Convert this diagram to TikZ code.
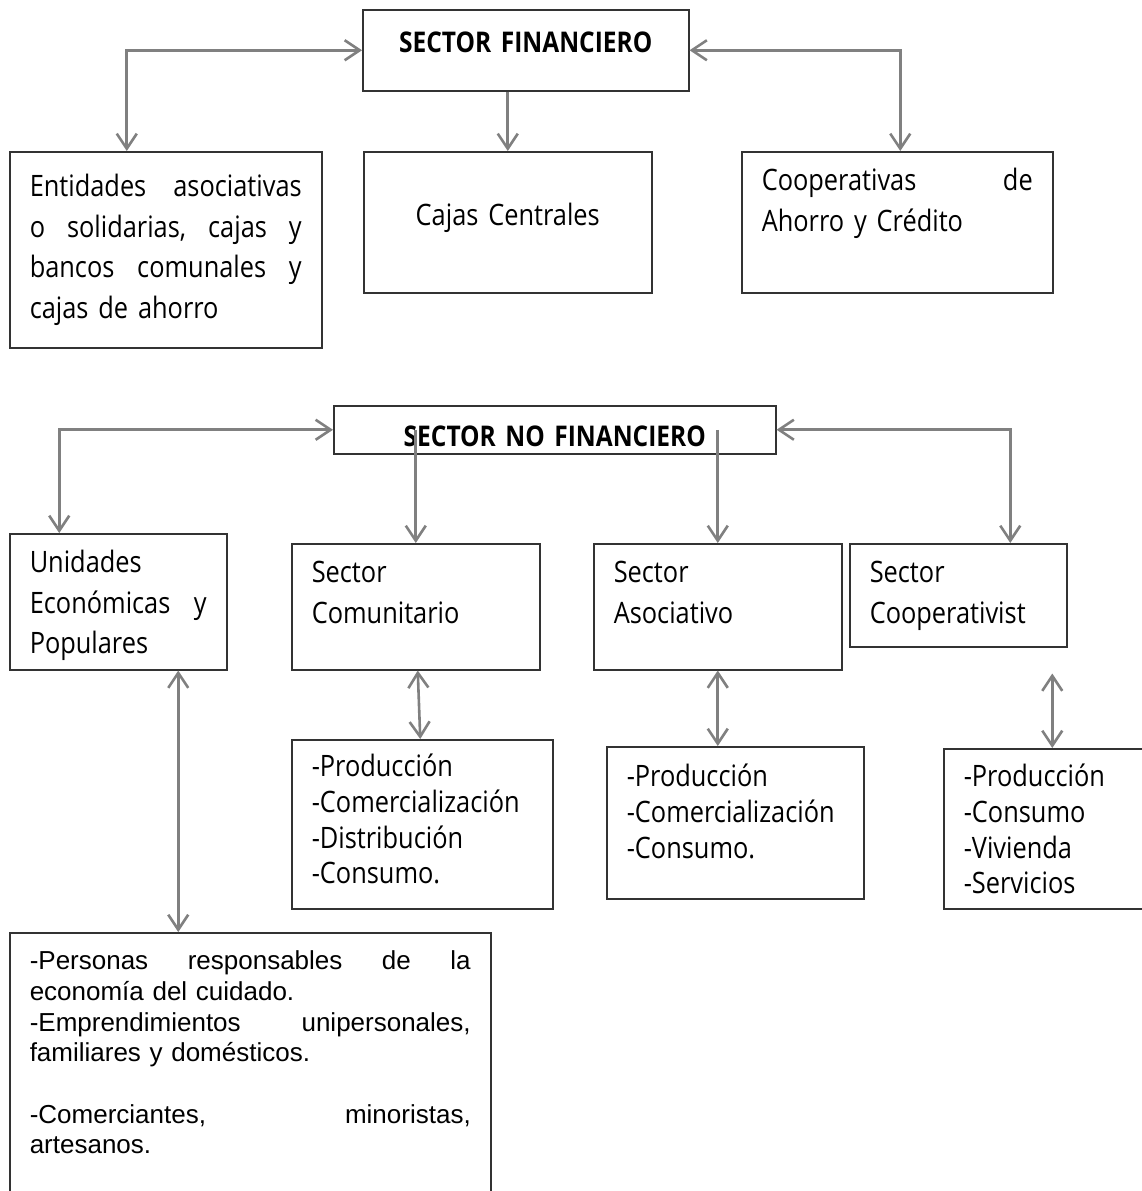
\documentclass[tikz,border=0pt]{standalone}
\usepackage{fontspec}
\setmainfont{Open Sans}[FakeStretch=0.86, WordSpace=0.85]
\newfontfamily\arialfont{Liberation Sans}
\usetikzlibrary{arrows.meta, positioning}

\begin{document}
\begin{tikzpicture}[
  x=1pt, y=-1pt,
  >={Straight Barb[length=15pt, width=20pt]},
  flow/.style={gray, line width=2.6pt},
  dims/.style n args={4}{minimum width=#1pt, text width=#2pt, text height=#3pt, text depth=#4pt},
  basebox/.style={draw=black!80, line width=1.5pt, anchor=north west, inner xsep=20pt, inner ysep=0pt,
                  align=left, font=\fontsize{29.5}{40.5}\selectfont},
  titlebox/.style={basebox, align=center, font=\bfseries\fontsize{28.5}{32}\selectfont},
  listbox/.style={basebox, font=\fontsize{29.5}{35.7}\selectfont},
  notebox/.style={basebox, font=\arialfont\fontsize{26}{30.7}\selectfont}
]
\useasboundingbox (0,0) rectangle (1142,1191);

% financial sector
\node[titlebox, dims={326}{286}{43}{38}] (sf) at (362,9) {SECTOR FINANCIERO};
\node[basebox, dims={312}{272}{45}{151}] (ent) at (9,151)
  {Entidades\hfill asociativas\\o\hfill solidarias,\hfill cajas\hfill y\\bancos\hfill comunales\hfill y\\cajas de ahorro};
\node[basebox, align=center, dims={288}{248}{74}{67}] (caj) at (363,151) {Cajas Centrales};
\node[basebox, dims={311}{271}{39}{102}] (coop) at (741,151) {Cooperativas\hfill de\\Ahorro y Crédito};

% non financial sector
\node[titlebox, dims={442}{402}{41}{7}] (nf) at (333,405) {SECTOR NO FINANCIERO};
\node[basebox, dims={217}{177}{39}{97}] (uni) at (9,533) {Unidades\\Económicas\hfill y\\Populares};
\node[basebox, dims={248}{208}{39}{87}] (com) at (291,543) {Sector\\Comunitario};
\node[basebox, dims={248}{208}{39}{87}] (aso) at (593,543) {Sector\\Asociativo};
\node[basebox, dims={217}{177}{39}{64}] (cvs) at (849,543) {Sector\\Cooperativist};

\node[listbox, dims={261}{221}{37}{132}] (comlist) at (291,739)
  {-Producción\\-Comercialización\\-Distribución\\-Consumo.};
\node[listbox, dims={257}{217}{40}{112}] (asolist) at (606,746)
  {-Producción\\-Comercialización\\-Consumo.};
\node[listbox, dims={220}{180}{38}{122}] (cvlist) at (943,748)
  {-Producción\\-Consumo\\-Vivienda\\-Servicios};
\node[notebox, dims={481}{441}{37}{300}] (per) at (9,932)
  {-Personas\hfill responsables\hfill de\hfill la\\economía del cuidado.\\-Emprendimientos\hfill unipersonales,\\familiares y domésticos.\\[30.7pt]-Comerciantes,\hfill minoristas,\\artesanos.};

% connectors
\draw[flow, <->] (sf.west) -| ([xshift=-39pt]ent.north);
\draw[flow, ->] (caj.north |- sf.south) -- (caj.north);
\draw[flow, <->] (sf.east) -| ([xshift=3pt]coop.north);

\draw[flow, <->] (nf.west) -| ([xshift=-59pt]uni.north);
\draw[flow, ->] (com.north |- nf.center) -- (com.north);
\draw[flow, ->] (aso.north |- nf.center) -- (aso.north);
\draw[flow, <->] (nf.east) -| ([xshift=52pt]cvs.north);

\draw[flow, <->] ([xshift=60pt]uni.south) -- ([xshift=60pt]uni.south |- per.north);
\draw[flow, <->] ([xshift=2pt]com.south) -- ([xshift=-2pt]comlist.north);
\draw[flow, <->] (aso.south) -- (aso.south |- asolist.north);
\coordinate (cvtop) at ([xshift=94pt, yshift=-26pt]cvs.south);
\draw[flow, <->] (cvtop) -- (cvtop |- cvlist.north);

\end{tikzpicture}
\end{document}
